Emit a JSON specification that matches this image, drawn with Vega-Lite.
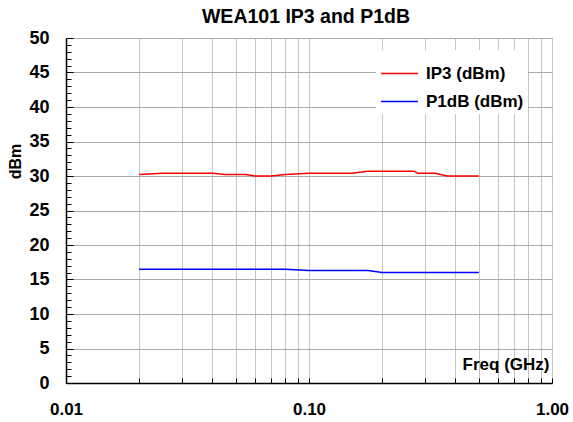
{
  "$schema": "https://vega.github.io/schema/vega-lite/v6.json",
  "width": 486,
  "height": 345,
  "autosize": "none",
  "padding": {"left": 66, "top": 38, "right": 21, "bottom": 39},
  "background": "white",
  "config": {
    "font": "Liberation Sans",
    "view": {"stroke": "#888888", "strokeWidth": 1}
  },
  "title": {
    "text": "WEA101 IP3 and P1dB",
    "font": "Liberation Sans",
    "fontSize": 19.5,
    "fontWeight": "bold",
    "anchor": "middle",
    "dx": -3,
    "offset": 2,
    "color": "black"
  },
  "resolve": {"axis": {"y": "independent"}},
  "data": {
    "values": [
      {"freq": 0.02, "value": 30.2, "series": "IP3 (dBm)"},
      {"freq": 0.025, "value": 30.4, "series": "IP3 (dBm)"},
      {"freq": 0.03, "value": 30.4, "series": "IP3 (dBm)"},
      {"freq": 0.04, "value": 30.4, "series": "IP3 (dBm)"},
      {"freq": 0.045, "value": 30.2, "series": "IP3 (dBm)"},
      {"freq": 0.055, "value": 30.2, "series": "IP3 (dBm)"},
      {"freq": 0.06, "value": 30.0, "series": "IP3 (dBm)"},
      {"freq": 0.07, "value": 30.0, "series": "IP3 (dBm)"},
      {"freq": 0.08, "value": 30.2, "series": "IP3 (dBm)"},
      {"freq": 0.1, "value": 30.4, "series": "IP3 (dBm)"},
      {"freq": 0.15, "value": 30.4, "series": "IP3 (dBm)"},
      {"freq": 0.175, "value": 30.7, "series": "IP3 (dBm)"},
      {"freq": 0.27, "value": 30.7, "series": "IP3 (dBm)"},
      {"freq": 0.28, "value": 30.4, "series": "IP3 (dBm)"},
      {"freq": 0.33, "value": 30.4, "series": "IP3 (dBm)"},
      {"freq": 0.37, "value": 30.0, "series": "IP3 (dBm)"},
      {"freq": 0.5, "value": 30.0, "series": "IP3 (dBm)"},
      {"freq": 0.02, "value": 16.5, "series": "P1dB (dBm)"},
      {"freq": 0.04, "value": 16.5, "series": "P1dB (dBm)"},
      {"freq": 0.06, "value": 16.5, "series": "P1dB (dBm)"},
      {"freq": 0.08, "value": 16.5, "series": "P1dB (dBm)"},
      {"freq": 0.1, "value": 16.3, "series": "P1dB (dBm)"},
      {"freq": 0.15, "value": 16.3, "series": "P1dB (dBm)"},
      {"freq": 0.175, "value": 16.3, "series": "P1dB (dBm)"},
      {"freq": 0.2, "value": 16.0, "series": "P1dB (dBm)"},
      {"freq": 0.3, "value": 16.0, "series": "P1dB (dBm)"},
      {"freq": 0.4, "value": 16.0, "series": "P1dB (dBm)"},
      {"freq": 0.5, "value": 16.0, "series": "P1dB (dBm)"}
    ]
  },
  "layer": [
    {
      "mark": {"type": "rule", "opacity": 0},
      "encoding": {
        "x": {
          "field": "freq", "type": "quantitative",
          "scale": {"type": "log", "domain": [0.01, 1], "nice": false},
          "axis": {
            "orient": "bottom",
            "values": [0.01, 0.02, 0.03, 0.04, 0.05, 0.06, 0.07, 0.08, 0.09, 0.1, 0.2, 0.3, 0.4, 0.5, 0.6, 0.7, 0.8, 0.9, 1],
            "grid": true,
            "gridColor": "#c4c4c4",
            "gridWidth": 1,
            "domainColor": "black",
            "domainWidth": 1.5,
            "tickColor": "black",
            "tickSize": -5,
            "labelExpr": "(datum.value == 0.01 || datum.value == 0.1 || datum.value == 1) ? format(datum.value, '.2f') : ''",
            "labelFont": "Liberation Sans",
            "labelFontSize": 17,
            "labelFontWeight": "bold",
            "labelColor": "black",
            "labelPadding": 23,
            "labelFlush": false,
            "labelOverlap": false,
            "title": "Freq (GHz)",
            "titleFont": "Liberation Sans",
            "titleFontSize": 17,
            "titleFontWeight": "bold",
            "titleColor": "black",
            "titleAlign": "right",
            "titleAnchor": null,
            "titleX": 483,
            "titleY": -14,
            "titleBaseline": "alphabetic"
          }
        },
        "y": {
          "field": "value", "type": "quantitative",
          "scale": {"domain": [0, 50], "nice": false, "zero": true},
          "axis": {
            "orient": "left",
            "values": [0, 5, 10, 15, 20, 25, 30, 35, 40, 45, 50],
            "grid": true,
            "gridColor": "#aaaaaa",
            "gridWidth": 1,
            "domainColor": "black",
            "domainWidth": 1.5,
            "tickColor": "black",
            "tickSize": -7,
            "labelFont": "Liberation Sans",
            "labelFontSize": 18,
            "labelFontWeight": "bold",
            "labelColor": "black",
            "labelPadding": 24,
            "title": "dBm",
            "titleFont": "Liberation Sans",
            "titleFontSize": 16,
            "titleFontWeight": "bold",
            "titleColor": "black",
            "titleX": -51,
            "titleY": 123,
            "titleBaseline": "middle",
            "titleAnchor": null
          }
        }
      }
    },
    {
      "mark": {"type": "rule", "opacity": 0},
      "encoding": {
        "y": {
          "field": "value", "type": "quantitative",
          "axis": {
            "orient": "left",
            "values": [1, 2, 3, 4, 6, 7, 8, 9, 11, 12, 13, 14, 16, 17, 18, 19, 21, 22, 23, 24, 26, 27, 28, 29, 31, 32, 33, 34, 36, 37, 38, 39, 41, 42, 43, 44, 46, 47, 48, 49],
            "grid": false,
            "domain": false,
            "labels": false,
            "tickColor": "black",
            "tickWidth": 1,
            "tickSize": -5,
            "title": null
          }
        }
      }
    },
    {
      "mark": {"type": "line", "strokeWidth": 1.5, "interpolate": "linear"},
      "encoding": {
        "x": {"field": "freq", "type": "quantitative"},
        "y": {"field": "value", "type": "quantitative", "axis": null},
        "color": {
          "field": "series", "type": "nominal",
          "scale": {"domain": ["IP3 (dBm)", "P1dB (dBm)"], "range": ["#ff0000", "#0000ff"]},
          "legend": {
            "orient": "none",
            "legendX": 310,
            "legendY": 12,
            "fillColor": "white",
            "strokeColor": null,
            "padding": 4,
            "title": null,
            "symbolType": "stroke",
            "symbolSize": 1369,
            "symbolStrokeWidth": 1.5,
            "labelFont": "Liberation Sans",
            "labelFontSize": 17,
            "labelFontWeight": "bold",
            "labelColor": "black",
            "labelOffset": 7,
            "rowPadding": -5,
            "labelLimit": 200
          }
        }
      }
    }
  ]
}
